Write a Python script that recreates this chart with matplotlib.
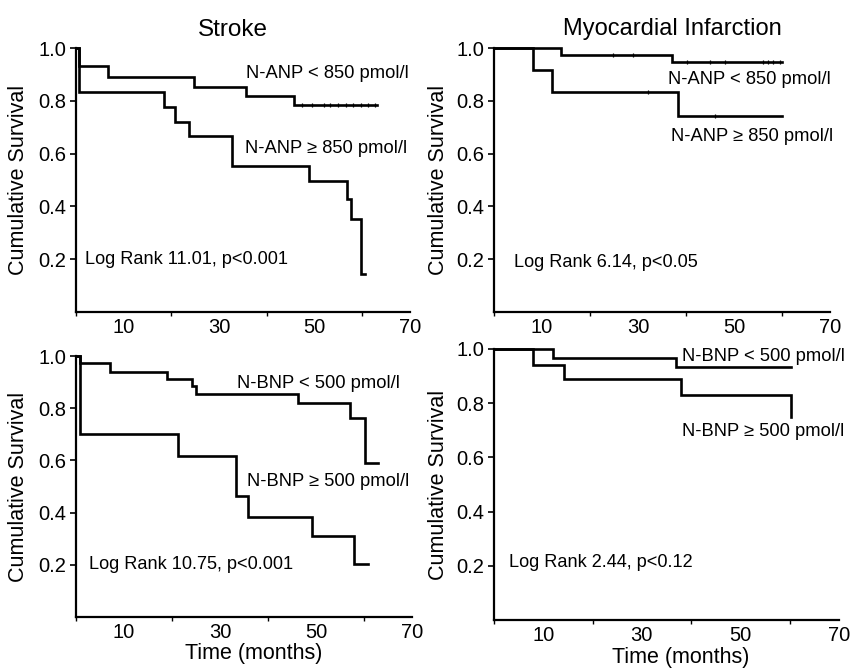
import matplotlib
matplotlib.use("Agg")
import matplotlib.pyplot as plt

plt.rcParams['font.family'] = ['Liberation Sans', 'DejaVu Sans']

# ---- data (time in months, cumulative survival) ----
stroke_anp_low_t = [0, 0.6, 6.7, 24.8, 35.7, 45.6, 63.0]
stroke_anp_low_s = [1.0, 0.930, 0.892, 0.854, 0.820, 0.785, 0.785]
stroke_anp_low_cens = [47.3, 49.4, 51.9, 53.3, 55.0, 56.5, 58.1, 59.8, 61.3, 62.7]
stroke_anp_high_t = [0, 0.6, 18.5, 20.8, 23.75, 32.6, 48.75, 56.7, 57.6, 59.7, 60.6]
stroke_anp_high_s = [1.0, 0.833, 0.776, 0.719, 0.665, 0.554, 0.497, 0.428, 0.354, 0.143, 0.143]

mi_anp_low_t = [0, 14.0, 37.0, 60.1]
mi_anp_low_s = [1.0, 0.975, 0.947, 0.947]
mi_anp_low_cens_a = [24.8, 29.0]
mi_anp_low_cens_b = [40.2, 45.0, 48.1, 56.0, 57.1, 58.1, 59.6]
mi_anp_high_t = [0, 8.05, 12.0, 38.3, 60.1]
mi_anp_high_s = [1.0, 0.918, 0.835, 0.743, 0.743]
mi_anp_high_cens_a = [32.1]
mi_anp_high_cens_b = [46.0]

stroke_bnp_low_t = [0, 0.8, 7.1, 18.9, 24.2, 25.1, 46.2, 57.1, 60.2, 63.0]
stroke_bnp_low_s = [1.0, 0.975, 0.940, 0.913, 0.885, 0.853, 0.819, 0.764, 0.589, 0.589]
stroke_bnp_high_t = [0, 0.8, 21.2, 33.3, 35.9, 49.1, 58.0, 60.9]
stroke_bnp_high_s = [1.0, 0.701, 0.615, 0.462, 0.385, 0.310, 0.204, 0.204]

mi_bnp_low_t = [0, 12.0, 37.0, 60.3]
mi_bnp_low_s = [1.0, 0.967, 0.933, 0.933]
mi_bnp_high_t = [0, 8.0, 14.2, 38.0, 60.3, 60.3]
mi_bnp_high_s = [1.0, 0.942, 0.890, 0.831, 0.748, 0.748]

x_label_ticks = [10, 30, 50, 70]
x_minor_ticks = [0, 20, 40, 60]
y_ticks = [0.2, 0.4, 0.6, 0.8, 1.0]
y_tick_labels = ['0.2', '0.4', '0.6', '0.8', '1.0']

fig = plt.figure(figsize=(8.5, 6.68), dpi=100)
W, H = 850, 668

def make_ax(left, right, top, bottom):
    return fig.add_axes([left / W, 1 - bottom / H, (right - left) / W, (bottom - top) / H])

ax_tl = make_ax(76, 410, 48, 312)
ax_tr = make_ax(494, 830, 48, 312)
ax_bl = make_ax(76, 412, 356, 617)
ax_br = make_ax(494, 839, 349, 620)

def style(ax, ylab_px, xlab_px=None):
    ax.set_xlim(0, 70)
    ax.set_ylim(0, 1.0)
    for s in ['top', 'right']:
        ax.spines[s].set_visible(False)
    for s in ['left', 'bottom']:
        ax.spines[s].set_linewidth(1.6)
    ax.set_xticks(x_label_ticks)
    ax.set_xticklabels([str(v) for v in x_label_ticks], fontsize=14.5)
    ax.set_xticks(x_minor_ticks, minor=True)
    ax.tick_params(axis='x', which='major', length=0, pad=4)
    ax.tick_params(axis='x', which='minor', length=3, width=1)
    ax.set_yticks(y_ticks)
    ax.set_yticklabels(y_tick_labels, fontsize=14.5)
    ax.tick_params(axis='y', length=4, width=1.2, pad=3)
    bb = ax.get_position()
    ax.set_ylabel('Cumulative Survival', fontsize=15.5)
    ax.yaxis.label.set_va('center')
    ax.yaxis.set_label_coords(-ylab_px / (bb.width * W), 0.5)
    if xlab_px is not None:
        ax.set_xlabel('Time (months)', fontsize=15.5)
        ax.xaxis.label.set_va('center')
        ax.xaxis.set_label_coords(0.53, -xlab_px / (bb.height * H))

def km(ax, t, s):
    ax.step(t, s, where='post', color='black', lw=1.9, clip_on=False, solid_joinstyle='miter')

def cens(ax, times, y):
    ax.plot(times, [y] * len(times), ls='none', marker='|', ms=3, mew=0.9, color='black')

NFS = 13.2
LFS = 13.1

# Top-left: Stroke, ANP
km(ax_tl, stroke_anp_low_t, stroke_anp_low_s)
cens(ax_tl, stroke_anp_low_cens, stroke_anp_low_s[-1])
km(ax_tl, stroke_anp_high_t, stroke_anp_high_s)
style(ax_tl, 57)
ax_tl.set_title('Stroke', fontsize=17.5, x=0.47, pad=9)
ax_tl.text(0.508, 0.902, 'N-ANP < 850 pmol/l', transform=ax_tl.transAxes, fontsize=NFS, va='center')
ax_tl.text(0.505, 0.621, 'N-ANP \u2265 850 pmol/l', transform=ax_tl.transAxes, fontsize=NFS, va='center')
ax_tl.text(0.027, 0.197, 'Log Rank 11.01, p<0.001', transform=ax_tl.transAxes, fontsize=LFS, va='center')

# Top-right: MI, ANP
km(ax_tr, mi_anp_low_t, mi_anp_low_s)
cens(ax_tr, mi_anp_low_cens_a, mi_anp_low_s[1])
cens(ax_tr, mi_anp_low_cens_b, mi_anp_low_s[2])
km(ax_tr, mi_anp_high_t, mi_anp_high_s)
cens(ax_tr, mi_anp_high_cens_a, mi_anp_high_s[2])
cens(ax_tr, mi_anp_high_cens_b, mi_anp_high_s[3])
style(ax_tr, 56)
ax_tr.set_title('Myocardial Infarction', fontsize=17, x=0.53, pad=9)
ax_tr.text(0.518, 0.879, 'N-ANP < 850 pmol/l', transform=ax_tr.transAxes, fontsize=NFS, va='center')
ax_tr.text(0.527, 0.663, 'N-ANP \u2265 850 pmol/l', transform=ax_tr.transAxes, fontsize=NFS, va='center')
ax_tr.text(0.060, 0.186, 'Log Rank 6.14, p<0.05', transform=ax_tr.transAxes, fontsize=LFS, va='center')

# Bottom-left: Stroke, BNP
km(ax_bl, stroke_bnp_low_t, stroke_bnp_low_s)
km(ax_bl, stroke_bnp_high_t, stroke_bnp_high_s)
style(ax_bl, 57, 37)
ax_bl.text(0.479, 0.893, 'N-BNP < 500 pmol/l', transform=ax_bl.transAxes, fontsize=NFS, va='center')
ax_bl.text(0.509, 0.521, 'N-BNP \u2265 500 pmol/l', transform=ax_bl.transAxes, fontsize=NFS, va='center')
ax_bl.text(0.039, 0.203, 'Log Rank 10.75, p<0.001', transform=ax_bl.transAxes, fontsize=LFS, va='center')

# Bottom-right: MI, BNP
km(ax_br, mi_bnp_low_t, mi_bnp_low_s)
km(ax_br, mi_bnp_high_t, mi_bnp_high_s)
style(ax_br, 56, 37)
ax_br.xaxis.set_label_coords(0.54, -37 / 271)
ax_br.text(0.545, 0.974, 'N-BNP < 500 pmol/l', transform=ax_br.transAxes, fontsize=NFS, va='center')
ax_br.text(0.545, 0.696, 'N-BNP \u2265 500 pmol/l', transform=ax_br.transAxes, fontsize=NFS, va='center')
ax_br.text(0.043, 0.211, 'Log Rank 2.44, p<0.12', transform=ax_br.transAxes, fontsize=LFS, va='center')

fig.savefig('out.png', dpi=100, facecolor='white')
